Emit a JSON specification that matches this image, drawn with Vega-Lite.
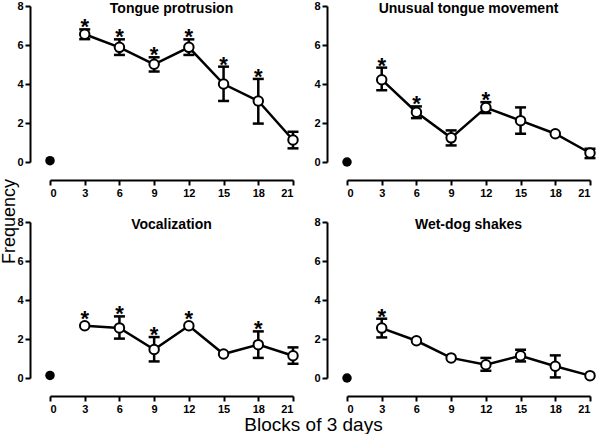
{
  "$schema": "https://vega.github.io/schema/vega-lite/v6.json",
  "padding": {"left": 0, "top": 0, "right": 0, "bottom": 0},
  "background": "white",
  "data": {"values": [
    {"panel": "Tongue protrusion", "day": 0, "mean": 0.07, "lo": null, "hi": null, "sig": 0},
    {"panel": "Tongue protrusion", "day": 3, "mean": 6.55, "lo": 6.3, "hi": 6.8, "sig": 1},
    {"panel": "Tongue protrusion", "day": 6, "mean": 5.88, "lo": 5.49, "hi": 6.29, "sig": 1},
    {"panel": "Tongue protrusion", "day": 9, "mean": 5.01, "lo": 4.64, "hi": 5.37, "sig": 1},
    {"panel": "Tongue protrusion", "day": 12, "mean": 5.88, "lo": 5.49, "hi": 6.29, "sig": 1},
    {"panel": "Tongue protrusion", "day": 15, "mean": 4.0, "lo": 3.13, "hi": 4.89, "sig": 1},
    {"panel": "Tongue protrusion", "day": 18, "mean": 3.13, "lo": 1.97, "hi": 4.26, "sig": 1},
    {"panel": "Tongue protrusion", "day": 21, "mean": 1.13, "lo": 0.7, "hi": 1.55, "sig": 0},
    {"panel": "Unusual tongue movement", "day": 0, "mean": 0.0, "lo": null, "hi": null, "sig": 0},
    {"panel": "Unusual tongue movement", "day": 3, "mean": 4.22, "lo": 3.68, "hi": 4.84, "sig": 1},
    {"panel": "Unusual tongue movement", "day": 6, "mean": 2.55, "lo": 2.25, "hi": 2.85, "sig": 1},
    {"panel": "Unusual tongue movement", "day": 9, "mean": 1.24, "lo": 0.85, "hi": 1.62, "sig": 0},
    {"panel": "Unusual tongue movement", "day": 12, "mean": 2.79, "lo": 2.51, "hi": 3.07, "sig": 1},
    {"panel": "Unusual tongue movement", "day": 15, "mean": 2.12, "lo": 1.45, "hi": 2.8, "sig": 0},
    {"panel": "Unusual tongue movement", "day": 18, "mean": 1.45, "lo": null, "hi": null, "sig": 0},
    {"panel": "Unusual tongue movement", "day": 21, "mean": 0.46, "lo": 0.2, "hi": 0.68, "sig": 0},
    {"panel": "Vocalization", "day": 0, "mean": 0.13, "lo": null, "hi": null, "sig": 0},
    {"panel": "Vocalization", "day": 3, "mean": 2.68, "lo": null, "hi": null, "sig": 1},
    {"panel": "Vocalization", "day": 6, "mean": 2.57, "lo": 2.02, "hi": 3.16, "sig": 1},
    {"panel": "Vocalization", "day": 9, "mean": 1.46, "lo": 0.85, "hi": 2.1, "sig": 1},
    {"panel": "Vocalization", "day": 12, "mean": 2.68, "lo": null, "hi": null, "sig": 1},
    {"panel": "Vocalization", "day": 15, "mean": 1.23, "lo": null, "hi": null, "sig": 0},
    {"panel": "Vocalization", "day": 18, "mean": 1.71, "lo": 1.03, "hi": 2.39, "sig": 1},
    {"panel": "Vocalization", "day": 21, "mean": 1.14, "lo": 0.73, "hi": 1.57, "sig": 0},
    {"panel": "Wet-dog shakes", "day": 0, "mean": 0.0, "lo": null, "hi": null, "sig": 0},
    {"panel": "Wet-dog shakes", "day": 3, "mean": 2.56, "lo": 2.08, "hi": 3.04, "sig": 1},
    {"panel": "Wet-dog shakes", "day": 6, "mean": 1.91, "lo": null, "hi": null, "sig": 0},
    {"panel": "Wet-dog shakes", "day": 9, "mean": 1.03, "lo": null, "hi": null, "sig": 0},
    {"panel": "Wet-dog shakes", "day": 12, "mean": 0.68, "lo": 0.37, "hi": 1.03, "sig": 0},
    {"panel": "Wet-dog shakes", "day": 15, "mean": 1.14, "lo": 0.85, "hi": 1.45, "sig": 0},
    {"panel": "Wet-dog shakes", "day": 18, "mean": 0.6, "lo": 0.03, "hi": 1.16, "sig": 0},
    {"panel": "Wet-dog shakes", "day": 21, "mean": 0.12, "lo": null, "hi": null, "sig": 0}
  ]},
  "columns": 2,
  "bounds": "flush",
  "spacing": {"row": 60, "column": 54},
  "concat": [
    {
      "width": 243, "height": 156,
      "title": {"text": "Tongue protrusion"},
      "transform": [{"filter": "datum.panel == 'Tongue protrusion'"}],
      "encoding": {"x": {"field": "day", "type": "quantitative", "scale": {"domain": [0, 21], "nice": false}, "axis": {"values": [0, 3, 6, 9, 12, 15, 18, 21], "offset": 18, "title": null}}},
      "layer": [
        {"transform": [{"filter": "datum.day > 0"}], "mark": {"type": "line", "color": "black", "strokeWidth": 2.5},
         "encoding": {"y": {"field": "mean", "type": "quantitative", "scale": {"domain": [0, 8], "nice": false}, "axis": {"values": [0, 2, 4, 6, 8], "offset": 20, "title": "Frequency", "titleX": -12, "titleY": 215, "titleAngle": -90}}}},
        {"transform": [{"filter": "datum.lo != null"}], "mark": {"type": "rule", "color": "black", "strokeWidth": 2.5},
         "encoding": {"y": {"field": "lo", "type": "quantitative", "axis": {"values": [0, 2, 4, 6, 8], "offset": 20, "title": "Frequency", "titleX": -12, "titleY": 215, "titleAngle": -90}}, "y2": {"field": "hi"}}},
        {"transform": [{"filter": "datum.lo != null"}], "mark": {"type": "tick", "orient": "horizontal", "color": "black", "size": 11, "thickness": 2.5, "opacity": 1},
         "encoding": {"y": {"field": "lo", "type": "quantitative", "axis": {"values": [0, 2, 4, 6, 8], "offset": 20, "title": "Frequency", "titleX": -12, "titleY": 215, "titleAngle": -90}}}},
        {"transform": [{"filter": "datum.lo != null"}], "mark": {"type": "tick", "orient": "horizontal", "color": "black", "size": 11, "thickness": 2.5, "opacity": 1},
         "encoding": {"y": {"field": "hi", "type": "quantitative", "axis": {"values": [0, 2, 4, 6, 8], "offset": 20, "title": "Frequency", "titleX": -12, "titleY": 215, "titleAngle": -90}}}},
        {"transform": [{"filter": "datum.day > 0"}], "mark": {"type": "point", "shape": "circle", "filled": true, "fill": "white", "stroke": "black", "strokeWidth": 2, "size": 90, "opacity": 1},
         "encoding": {"y": {"field": "mean", "type": "quantitative", "axis": {"values": [0, 2, 4, 6, 8], "offset": 20, "title": "Frequency", "titleX": -12, "titleY": 215, "titleAngle": -90}}}},
        {"transform": [{"filter": "datum.day == 0"}], "mark": {"type": "circle", "color": "black", "size": 90, "opacity": 1},
         "encoding": {"y": {"field": "mean", "type": "quantitative", "axis": {"values": [0, 2, 4, 6, 8], "offset": 20, "title": "Frequency", "titleX": -12, "titleY": 215, "titleAngle": -90}}}},
        {"transform": [{"filter": "datum.sig == 1 && datum.hi != null"}], "mark": {"type": "text", "text": "*", "font": "Liberation Sans", "fontWeight": "bold", "fontSize": 22, "baseline": "alphabetic", "dy": 5, "color": "black"},
         "encoding": {"y": {"field": "hi", "type": "quantitative", "axis": {"values": [0, 2, 4, 6, 8], "offset": 20, "title": "Frequency", "titleX": -12, "titleY": 215, "titleAngle": -90}}}},
        {"transform": [{"filter": "datum.sig == 1 && datum.hi == null"}], "mark": {"type": "text", "text": "*", "font": "Liberation Sans", "fontWeight": "bold", "fontSize": 22, "baseline": "alphabetic", "dy": 0, "color": "black"},
         "encoding": {"y": {"field": "mean", "type": "quantitative", "axis": {"values": [0, 2, 4, 6, 8], "offset": 20, "title": "Frequency", "titleX": -12, "titleY": 215, "titleAngle": -90}}}}
      ]
    },
    {
      "width": 243, "height": 156,
      "title": {"text": "Unusual tongue movement"},
      "transform": [{"filter": "datum.panel == 'Unusual tongue movement'"}],
      "encoding": {"x": {"field": "day", "type": "quantitative", "scale": {"domain": [0, 21], "nice": false}, "axis": {"values": [0, 3, 6, 9, 12, 15, 18, 21], "offset": 18, "title": null}}},
      "layer": [
        {"transform": [{"filter": "datum.day > 0"}], "mark": {"type": "line", "color": "black", "strokeWidth": 2.5},
         "encoding": {"y": {"field": "mean", "type": "quantitative", "scale": {"domain": [0, 8], "nice": false}, "axis": {"values": [0, 2, 4, 6, 8], "offset": 20, "title": null}}}},
        {"transform": [{"filter": "datum.lo != null"}], "mark": {"type": "rule", "color": "black", "strokeWidth": 2.5},
         "encoding": {"y": {"field": "lo", "type": "quantitative", "axis": {"values": [0, 2, 4, 6, 8], "offset": 20, "title": null}}, "y2": {"field": "hi"}}},
        {"transform": [{"filter": "datum.lo != null"}], "mark": {"type": "tick", "orient": "horizontal", "color": "black", "size": 11, "thickness": 2.5, "opacity": 1},
         "encoding": {"y": {"field": "lo", "type": "quantitative", "axis": {"values": [0, 2, 4, 6, 8], "offset": 20, "title": null}}}},
        {"transform": [{"filter": "datum.lo != null"}], "mark": {"type": "tick", "orient": "horizontal", "color": "black", "size": 11, "thickness": 2.5, "opacity": 1},
         "encoding": {"y": {"field": "hi", "type": "quantitative", "axis": {"values": [0, 2, 4, 6, 8], "offset": 20, "title": null}}}},
        {"transform": [{"filter": "datum.day > 0"}], "mark": {"type": "point", "shape": "circle", "filled": true, "fill": "white", "stroke": "black", "strokeWidth": 2, "size": 90, "opacity": 1},
         "encoding": {"y": {"field": "mean", "type": "quantitative", "axis": {"values": [0, 2, 4, 6, 8], "offset": 20, "title": null}}}},
        {"transform": [{"filter": "datum.day == 0"}], "mark": {"type": "circle", "color": "black", "size": 90, "opacity": 1},
         "encoding": {"y": {"field": "mean", "type": "quantitative", "axis": {"values": [0, 2, 4, 6, 8], "offset": 20, "title": null}}}},
        {"transform": [{"filter": "datum.sig == 1 && datum.hi != null"}], "mark": {"type": "text", "text": "*", "font": "Liberation Sans", "fontWeight": "bold", "fontSize": 22, "baseline": "alphabetic", "dy": 5, "color": "black"},
         "encoding": {"y": {"field": "hi", "type": "quantitative", "axis": {"values": [0, 2, 4, 6, 8], "offset": 20, "title": null}}}},
        {"transform": [{"filter": "datum.sig == 1 && datum.hi == null"}], "mark": {"type": "text", "text": "*", "font": "Liberation Sans", "fontWeight": "bold", "fontSize": 22, "baseline": "alphabetic", "dy": 0, "color": "black"},
         "encoding": {"y": {"field": "mean", "type": "quantitative", "axis": {"values": [0, 2, 4, 6, 8], "offset": 20, "title": null}}}}
      ]
    },
    {
      "width": 243, "height": 156,
      "title": {"text": "Vocalization"},
      "transform": [{"filter": "datum.panel == 'Vocalization'"}],
      "encoding": {"x": {"field": "day", "type": "quantitative", "scale": {"domain": [0, 21], "nice": false}, "axis": {"values": [0, 3, 6, 9, 12, 15, 18, 21], "offset": 18, "title": "Blocks of 3 days", "titleX": 263, "titleY": 19, "titleFontSize": 19}}},
      "layer": [
        {"transform": [{"filter": "datum.day > 0"}], "mark": {"type": "line", "color": "black", "strokeWidth": 2.5},
         "encoding": {"y": {"field": "mean", "type": "quantitative", "scale": {"domain": [0, 8], "nice": false}, "axis": {"values": [0, 2, 4, 6, 8], "offset": 20, "title": null}}}},
        {"transform": [{"filter": "datum.lo != null"}], "mark": {"type": "rule", "color": "black", "strokeWidth": 2.5},
         "encoding": {"y": {"field": "lo", "type": "quantitative", "axis": {"values": [0, 2, 4, 6, 8], "offset": 20, "title": null}}, "y2": {"field": "hi"}}},
        {"transform": [{"filter": "datum.lo != null"}], "mark": {"type": "tick", "orient": "horizontal", "color": "black", "size": 11, "thickness": 2.5, "opacity": 1},
         "encoding": {"y": {"field": "lo", "type": "quantitative", "axis": {"values": [0, 2, 4, 6, 8], "offset": 20, "title": null}}}},
        {"transform": [{"filter": "datum.lo != null"}], "mark": {"type": "tick", "orient": "horizontal", "color": "black", "size": 11, "thickness": 2.5, "opacity": 1},
         "encoding": {"y": {"field": "hi", "type": "quantitative", "axis": {"values": [0, 2, 4, 6, 8], "offset": 20, "title": null}}}},
        {"transform": [{"filter": "datum.day > 0"}], "mark": {"type": "point", "shape": "circle", "filled": true, "fill": "white", "stroke": "black", "strokeWidth": 2, "size": 90, "opacity": 1},
         "encoding": {"y": {"field": "mean", "type": "quantitative", "axis": {"values": [0, 2, 4, 6, 8], "offset": 20, "title": null}}}},
        {"transform": [{"filter": "datum.day == 0"}], "mark": {"type": "circle", "color": "black", "size": 90, "opacity": 1},
         "encoding": {"y": {"field": "mean", "type": "quantitative", "axis": {"values": [0, 2, 4, 6, 8], "offset": 20, "title": null}}}},
        {"transform": [{"filter": "datum.sig == 1 && datum.hi != null"}], "mark": {"type": "text", "text": "*", "font": "Liberation Sans", "fontWeight": "bold", "fontSize": 22, "baseline": "alphabetic", "dy": 5, "color": "black"},
         "encoding": {"y": {"field": "hi", "type": "quantitative", "axis": {"values": [0, 2, 4, 6, 8], "offset": 20, "title": null}}}},
        {"transform": [{"filter": "datum.sig == 1 && datum.hi == null"}], "mark": {"type": "text", "text": "*", "font": "Liberation Sans", "fontWeight": "bold", "fontSize": 22, "baseline": "alphabetic", "dy": 0, "color": "black"},
         "encoding": {"y": {"field": "mean", "type": "quantitative", "axis": {"values": [0, 2, 4, 6, 8], "offset": 20, "title": null}}}}
      ]
    },
    {
      "width": 243, "height": 156,
      "title": {"text": "Wet-dog shakes"},
      "transform": [{"filter": "datum.panel == 'Wet-dog shakes'"}],
      "encoding": {"x": {"field": "day", "type": "quantitative", "scale": {"domain": [0, 21], "nice": false}, "axis": {"values": [0, 3, 6, 9, 12, 15, 18, 21], "offset": 18, "title": null}}},
      "layer": [
        {"transform": [{"filter": "datum.day > 0"}], "mark": {"type": "line", "color": "black", "strokeWidth": 2.5},
         "encoding": {"y": {"field": "mean", "type": "quantitative", "scale": {"domain": [0, 8], "nice": false}, "axis": {"values": [0, 2, 4, 6, 8], "offset": 20, "title": null}}}},
        {"transform": [{"filter": "datum.lo != null"}], "mark": {"type": "rule", "color": "black", "strokeWidth": 2.5},
         "encoding": {"y": {"field": "lo", "type": "quantitative", "axis": {"values": [0, 2, 4, 6, 8], "offset": 20, "title": null}}, "y2": {"field": "hi"}}},
        {"transform": [{"filter": "datum.lo != null"}], "mark": {"type": "tick", "orient": "horizontal", "color": "black", "size": 11, "thickness": 2.5, "opacity": 1},
         "encoding": {"y": {"field": "lo", "type": "quantitative", "axis": {"values": [0, 2, 4, 6, 8], "offset": 20, "title": null}}}},
        {"transform": [{"filter": "datum.lo != null"}], "mark": {"type": "tick", "orient": "horizontal", "color": "black", "size": 11, "thickness": 2.5, "opacity": 1},
         "encoding": {"y": {"field": "hi", "type": "quantitative", "axis": {"values": [0, 2, 4, 6, 8], "offset": 20, "title": null}}}},
        {"transform": [{"filter": "datum.day > 0"}], "mark": {"type": "point", "shape": "circle", "filled": true, "fill": "white", "stroke": "black", "strokeWidth": 2, "size": 90, "opacity": 1},
         "encoding": {"y": {"field": "mean", "type": "quantitative", "axis": {"values": [0, 2, 4, 6, 8], "offset": 20, "title": null}}}},
        {"transform": [{"filter": "datum.day == 0"}], "mark": {"type": "circle", "color": "black", "size": 90, "opacity": 1},
         "encoding": {"y": {"field": "mean", "type": "quantitative", "axis": {"values": [0, 2, 4, 6, 8], "offset": 20, "title": null}}}},
        {"transform": [{"filter": "datum.sig == 1 && datum.hi != null"}], "mark": {"type": "text", "text": "*", "font": "Liberation Sans", "fontWeight": "bold", "fontSize": 22, "baseline": "alphabetic", "dy": 5, "color": "black"},
         "encoding": {"y": {"field": "hi", "type": "quantitative", "axis": {"values": [0, 2, 4, 6, 8], "offset": 20, "title": null}}}},
        {"transform": [{"filter": "datum.sig == 1 && datum.hi == null"}], "mark": {"type": "text", "text": "*", "font": "Liberation Sans", "fontWeight": "bold", "fontSize": 22, "baseline": "alphabetic", "dy": 0, "color": "black"},
         "encoding": {"y": {"field": "mean", "type": "quantitative", "axis": {"values": [0, 2, 4, 6, 8], "offset": 20, "title": null}}}}
      ]
    }
  ],
  "config": {
    "view": {"stroke": null},
    "axis": {
      "grid": false,
      "domainColor": "black", "domainWidth": 2,
      "tickColor": "black", "tickWidth": 2, "tickSize": 5,
      "labelFont": "Liberation Sans", "labelFontWeight": "bold", "labelFontSize": 11, "labelColor": "black", "labelPadding": 2,
      "titleFont": "Liberation Sans", "titleFontWeight": "normal", "titleFontSize": 18, "titleColor": "black"
    },
    "title": {"font": "Liberation Sans", "fontWeight": "bold", "fontSize": 14, "color": "black", "anchor": "middle", "frame": "group", "offset": -16}
  }
}
